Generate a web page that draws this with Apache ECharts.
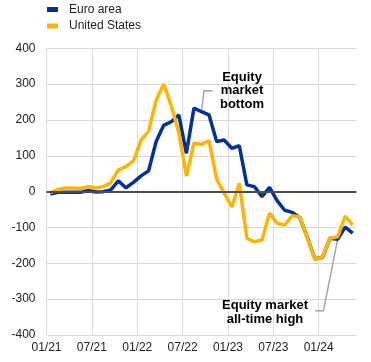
<!DOCTYPE html>
<html>
<head>
<meta charset="utf-8">
<script src="https://cdn.jsdelivr.net/npm/echarts@6/dist/echarts.min.js"></script>
<style>
html,body{margin:0;padding:0;background:#fff;}
#c{width:371px;height:362px;}
</style>
</head>
<body>
<div id="c"></div>
<script>
const months = ['2021-01','2021-02','2021-03','2021-04','2021-05','2021-06','2021-07','2021-08','2021-09','2021-10','2021-11','2021-12',
  '2022-01','2022-02','2022-03','2022-04','2022-05','2022-06','2022-07','2022-08','2022-09','2022-10','2022-11','2022-12',
  '2023-01','2023-02','2023-03','2023-04','2023-05','2023-06','2023-07','2023-08','2023-09','2023-10','2023-11','2023-12',
  '2024-01','2024-02','2024-03','2024-04','2024-05'];
const euroArea = [-7,-2,-2,-2,-2,3,-1,0,5,30,11,26,44,58,140,185,195,214,107,233,223,214,140,144,121,128,19,14,-14,12,-25,-52,-58,-72,-128,-188,-183,-130,-133,-99,-116];
const unitedStates = [-3,6,10,10,9,14,10,14,25,60,70,86,144,168,255,300,240,165,44,135,132,142,35,-4,-42,23,-130,-140,-135,-60,-88,-93,-67,-70,-129,-190,-182,-130,-126,-68,-93];
const xTickLabels = ['01/21','07/21','01/22','07/22','01/23','07/23','01/24'];
const yTicks = [-400,-300,-200,-100,0,100,200,300,400];
const annotBottom = {month:'2022-09', lines:['Equity','market','bottom']};
const annotHigh = {month:'2024-03', lines:['Equity market','all-time high']};

function mIdx(s){const p=s.split('-');return (+p[0]-2021)*12+(+p[1]-1)+0.5;}
function toPairs(vals){return vals.map((v,i)=>[mIdx(months[i]),v]);}

const chart = echarts.init(document.getElementById('c'));
const FONT = '"Liberation Sans", Arial, sans-serif';
chart.setOption({
  animation:false,
  textStyle:{fontFamily:FONT},
  legend:{
    data:['Euro area','United States'],
    orient:'vertical', left:47, top:3.5, padding:0,
    icon:'rect', itemWidth:11, itemHeight:5, itemGap:4.5,
    textStyle:{fontSize:12, color:'#222', fontFamily:FONT, padding:[0,0,0,6]}
  },
  grid:{left:46.5, right:14.5, top:48.3, bottom:27},
  xAxis:{
    type:'value', min:0, max:41, interval:6,
    axisLine:{show:false}, axisTick:{show:false},
    axisLabel:{fontSize:12, color:'#222', margin:7, showMaxLabel:false,
      formatter:(v)=>{const k=Math.round(v/6);return (Math.abs(v-k*6)<1e-6 && xTickLabels[k])?xTickLabels[k]:'';}},
    splitLine:{show:true, showMaxLine:false, lineStyle:{color:'#d9d9d9', width:1}}
  },
  yAxis:{
    type:'value', min:yTicks[0], max:yTicks[yTicks.length-1], interval:100,
    axisLine:{show:false}, axisTick:{show:false},
    axisLabel:{fontSize:12, color:'#222', margin:11},
    splitLine:{lineStyle:{color:'#d9d9d9', width:1}}
  },
  series:[
    {name:'Euro area', type:'line', data:toPairs(euroArea), symbol:'none',
     lineStyle:{color:'#003299', width:3.5}, itemStyle:{color:'#003299'},
     markLine:{silent:true, symbol:'none', label:{show:false},
       lineStyle:{color:'#4d4d4d', width:2, type:'solid'}, data:[{yAxis:0}]}},
    {name:'United States', type:'line', data:toPairs(unitedStates), symbol:'none',
     lineStyle:{color:'#ffb400', width:3.5}, itemStyle:{color:'#ffb400'}}
  ]
});

function addAnnotations(){
  const iB = months.indexOf(annotBottom.month);
  const pB = chart.convertToPixel({gridIndex:0},[mIdx(months[iB]), euroArea[iB]]);
  const iH = months.indexOf(annotHigh.month);
  const pH = chart.convertToPixel({gridIndex:0},[mIdx(months[iH]), euroArea[iH]]);
  const gray = '#a6a6a6';
  const tStyle = {fill:'#000', font:'bold 13px '+FONT, textAlign:'center', textVerticalAlign:'middle'};
  chart.setOption({graphic:[
    {type:'polyline', shape:{points:[[212.5,90.7],[pB[0]+2.5,90.7],[pB[0],pB[1]]]}, style:{stroke:gray, lineWidth:1.5, fill:null}},
    {type:'text', x:242, y:77, style:Object.assign({text:annotBottom.lines[0]},tStyle)},
    {type:'text', x:242, y:90.7, style:Object.assign({text:annotBottom.lines[1]},tStyle)},
    {type:'text', x:242, y:104.3, style:Object.assign({text:annotBottom.lines[2]},tStyle)},
    {type:'polyline', shape:{points:[[315,310.7],[323.5,310.7],[pH[0],pH[1]]]}, style:{stroke:gray, lineWidth:1.5, fill:null}},
    {type:'text', x:265, y:305, style:Object.assign({text:annotHigh.lines[0]},tStyle)},
    {type:'text', x:265, y:319, style:Object.assign({text:annotHigh.lines[1]},tStyle)}
  ]});
}
addAnnotations();
</script>
</body>
</html>
